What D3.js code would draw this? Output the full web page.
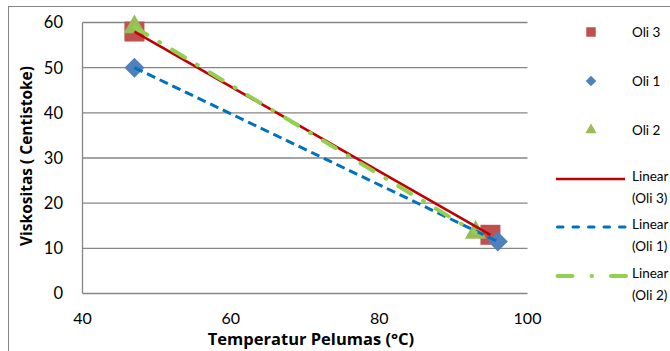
<!DOCTYPE html>
<html>
<head>
<meta charset="utf-8">
<script src="https://cdn.jsdelivr.net/npm/d3@7"></script>
<style>
  html, body { margin: 0; padding: 0; background: #fff; }
  svg { display: block; font-family: Lato, "Open Sans", "Liberation Sans", sans-serif; }
  .axis-title { font-family: "Open Sans", Lato, sans-serif; font-weight: bold; }
</style>
</head>
<body>
<svg id="chart" width="670" height="351"></svg>
<script>
// Viscosity measurements of three oils at two temperatures
const seriesNames = ["Oli 3", "Oli 1", "Oli 2"];
const temperature = {
  "Oli 3": [47, 95],
  "Oli 1": [47, 96],
  "Oli 2": [47, 93]
};
const viscosity = {
  "Oli 3": [58, 13],
  "Oli 1": [50, 11.5],
  "Oli 2": [59, 13.5]
};
const xTicks = [40, 60, 80, 100];
const yTicks = [0, 10, 20, 30, 40, 50, 60];

const colors = { "Oli 3": "#C0504D", "Oli 1": "#4F81BD", "Oli 2": "#9BBB59" };
const trendColors = { "Oli 3": "#C00000", "Oli 1": "#0070C0", "Oli 2": "#92D050" };
const trendDash = { "Oli 3": null, "Oli 1": "9,5", "Oli 2": "15,14,1,14" };
const legendDash = { "Oli 3": null, "Oli 1": "5.5,10", "Oli 2": "15,19,0.5,19" };
const trendCap = { "Oli 3": "butt", "Oli 1": "butt", "Oli 2": "round" };
const trendWidth = { "Oli 3": 2.6, "Oli 1": 3, "Oli 2": 4 };

// marker shapes: square, diamond (rotated square), triangle
const markerShape = {
  "Oli 3": { type: d3.symbolSquare, size: 400, rotate: 0 },
  "Oli 1": { type: d3.symbolSquare, size: 200, rotate: 45 },
  "Oli 2": { type: d3.symbolTriangle, size: 200, rotate: 0 }
};
const legendShape = {
  "Oli 3": { type: d3.symbolSquare, size: 90, rotate: 0 },
  "Oli 1": { type: d3.symbolSquare, size: 55, rotate: 45 },
  "Oli 2": { type: d3.symbolTriangle, size: 55, rotate: 0 }
};

const svg = d3.select("#chart");

// outer chart frame
svg.append("rect").attr("x", 8.5).attr("y", 6.5).attr("width", 700).attr("height", 400)
  .attr("fill", "#fff").attr("stroke", "#868686").attr("stroke-width", 1);

const plot = { left: 82.5, right: 527.5, top: 22.5, bottom: 293.5 };
const x = d3.scaleLinear().domain([40, 100]).range([plot.left, plot.right]);
const y = d3.scaleLinear().domain([0, 60]).range([plot.bottom, plot.top]);

// horizontal gridlines
svg.append("g").selectAll("line").data(yTicks).join("line")
  .attr("x1", plot.left).attr("x2", plot.right)
  .attr("y1", d => y(d)).attr("y2", d => y(d))
  .attr("stroke", "#868686").attr("stroke-width", 1.3);

// left axis line
svg.append("line").attr("x1", plot.left).attr("x2", plot.left)
  .attr("y1", plot.top).attr("y2", plot.bottom)
  .attr("stroke", "#868686").attr("stroke-width", 1.3);

// y tick labels
svg.append("g").selectAll("text").data(yTicks).join("text")
  .attr("x", 63).attr("y", d => y(d)).attr("dy", "0.36em")
  .attr("text-anchor", "end").attr("font-size", 16.5).attr("fill", "#000")
  .text(d => d);

// x tick labels
svg.append("g").selectAll("text").data(xTicks).join("text")
  .attr("x", d => x(d)).attr("y", 318.5).attr("dy", "0.36em")
  .attr("text-anchor", "middle").attr("font-size", 16).attr("fill", "#000")
  .text(d => d);

// axis titles
svg.append("text").attr("class", "axis-title")
  .attr("x", 311).attr("y", 345)
  .attr("text-anchor", "middle").attr("font-size", 16.5)
  .text("Temperatur Pelumas (°C)");
svg.append("text").attr("class", "axis-title")
  .attr("transform", "translate(26,156) rotate(-90)")
  .attr("dy", "0.36em").attr("text-anchor", "middle")
  .attr("font-size", 15.5)
  .text("Viskositas ( Centistoke)");

function marker(sel, shape, cx, cy) {
  return sel.append("path")
    .attr("transform", `translate(${cx},${cy}) rotate(${shape.rotate})`)
    .attr("d", d3.symbol(shape.type, shape.size)());
}

// markers
seriesNames.forEach(name => {
  const g = svg.append("g").attr("fill", colors[name]);
  temperature[name].forEach((t, i) => {
    marker(g, markerShape[name], x(t), y(viscosity[name][i]));
  });
});

// least-squares linear trendlines
function fit(xs, ys) {
  const mx = d3.mean(xs), my = d3.mean(ys);
  const sxy = d3.sum(xs, (v, i) => (v - mx) * (ys[i] - my));
  const sxx = d3.sum(xs, v => (v - mx) * (v - mx));
  const m = sxy / sxx;
  return { m, b: my - m * mx };
}
seriesNames.forEach(name => {
  const xs = temperature[name], ys = viscosity[name];
  const { m, b } = fit(xs, ys);
  const x0 = d3.min(xs), x1 = d3.max(xs);
  svg.append("line")
    .attr("x1", x(x0)).attr("y1", y(m * x0 + b))
    .attr("x2", x(x1)).attr("y2", y(m * x1 + b))
    .attr("stroke", trendColors[name]).attr("stroke-width", trendWidth[name])
    .attr("stroke-dasharray", trendDash[name])
    .attr("stroke-linecap", trendCap[name]);
});

// legend: markers
const legendMarkerY = { "Oli 3": 32, "Oli 1": 81, "Oli 2": 130 };
seriesNames.forEach(name => {
  const g = svg.append("g").attr("fill", colors[name]);
  marker(g, legendShape[name], 591, legendMarkerY[name]);
  svg.append("text").attr("x", 632).attr("y", legendMarkerY[name]).attr("dy", "0.36em")
    .attr("font-size", 13.5).text(name);
});

// legend: trendlines
const legendLineY = { "Oli 3": 179, "Oli 1": 227, "Oli 2": 276 };
seriesNames.forEach(name => {
  const ly = legendLineY[name];
  svg.append("line")
    .attr("x1", name === "Oli 3" ? 556 : 557.5)
    .attr("x2", name === "Oli 3" ? 625 : 626)
    .attr("y1", ly).attr("y2", ly)
    .attr("stroke", trendColors[name]).attr("stroke-width", trendWidth[name])
    .attr("stroke-dasharray", legendDash[name])
    .attr("stroke-linecap", name === "Oli 3" ? "butt" : "round");
  svg.append("text").attr("x", 632).attr("y", ly - 3).attr("dy", "0.36em")
    .attr("font-size", 13.5).text("Linear");
  svg.append("text").attr("x", 632).attr("y", ly + 19).attr("dy", "0.36em")
    .attr("font-size", 13.5).text(`(${name})`);
});
</script>
</body>
</html>
